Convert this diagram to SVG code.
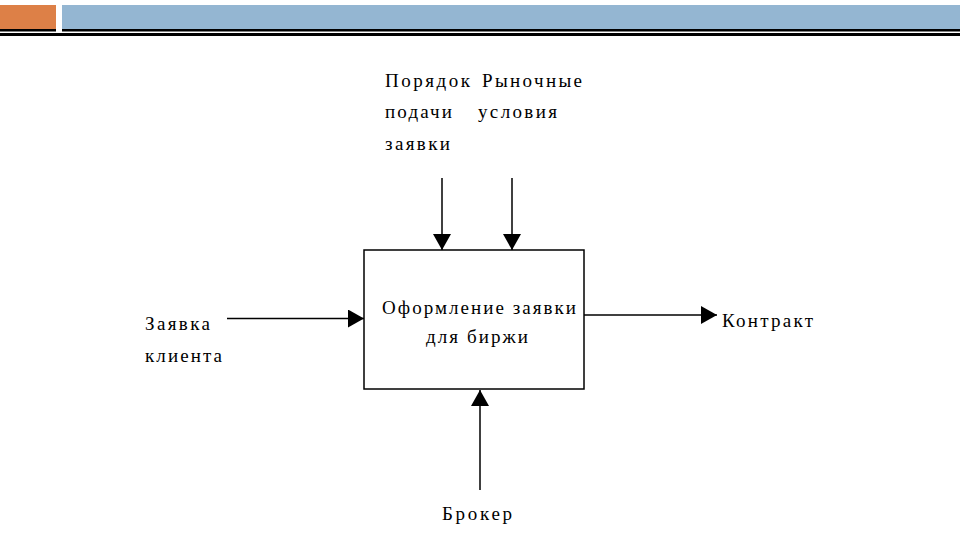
<svg xmlns="http://www.w3.org/2000/svg" width="960" height="540" viewBox="0 0 960 540">
<style>
text{font-family:"Liberation Serif","Times New Roman",serif;font-size:19px;fill:#000}
.ln{stroke:#000;stroke-width:1.5;fill:none}
</style>
<defs>
<marker id="ah" viewBox="0 0 16 18" markerWidth="16" markerHeight="18" refX="16" refY="9" orient="auto" markerUnits="userSpaceOnUse">
<path d="M0,0 L16,9 L0,18 z" fill="#000"/>
</marker>
</defs>
<rect width="960" height="540" fill="#fff"/>
<g id="header">
<rect x="0" y="5" width="56" height="24" fill="#DD8047"/>
<rect x="62" y="5" width="898" height="24" fill="#94B6D2"/>
<rect x="0" y="29" width="56" height="2.5" fill="#000"/>
<rect x="62" y="29" width="898" height="2.5" fill="#000"/>
<rect x="0" y="33" width="960" height="3" fill="#000"/>
</g>
<g id="connectors">
<line class="ln" x1="442" y1="178" x2="442" y2="250" marker-end="url(#ah)"/>
<line class="ln" x1="512" y1="178" x2="512" y2="250" marker-end="url(#ah)"/>
<line class="ln" x1="227" y1="318.5" x2="364" y2="318.5" marker-end="url(#ah)"/>
<line class="ln" x1="584" y1="315" x2="717" y2="315" marker-end="url(#ah)"/>
<line class="ln" x1="480" y1="490" x2="480" y2="390" marker-end="url(#ah)"/>
</g>
<g id="node-process">
<rect x="364" y="250" width="220" height="139" fill="#fff" stroke="#000" stroke-width="1.5"/>
<text x="382" y="314" textLength="194" lengthAdjust="spacing">Оформление заявки</text>
<text x="426" y="343" textLength="102" lengthAdjust="spacing">для биржи</text>
</g>
<g id="node-control1">
<text x="385" y="87" textLength="85" lengthAdjust="spacing">Порядок</text>
<text x="385" y="118" textLength="67" lengthAdjust="spacing">подачи</text>
<text x="385" y="150" textLength="65" lengthAdjust="spacing">заявки</text>
</g>
<g id="node-control2">
<text x="482" y="87" textLength="100" lengthAdjust="spacing">Рыночные</text>
<text x="478" y="118" textLength="79" lengthAdjust="spacing">условия</text>
</g>
<g id="node-input">
<text x="145" y="330" textLength="65" lengthAdjust="spacing">Заявка</text>
<text x="145" y="362" textLength="77" lengthAdjust="spacing">клиента</text>
</g>
<g id="node-output">
<text x="722" y="327" textLength="91" lengthAdjust="spacing">Контракт</text>
</g>
<g id="node-mechanism">
<text x="442" y="520" textLength="70" lengthAdjust="spacing">Брокер</text>
</g>
</svg>
